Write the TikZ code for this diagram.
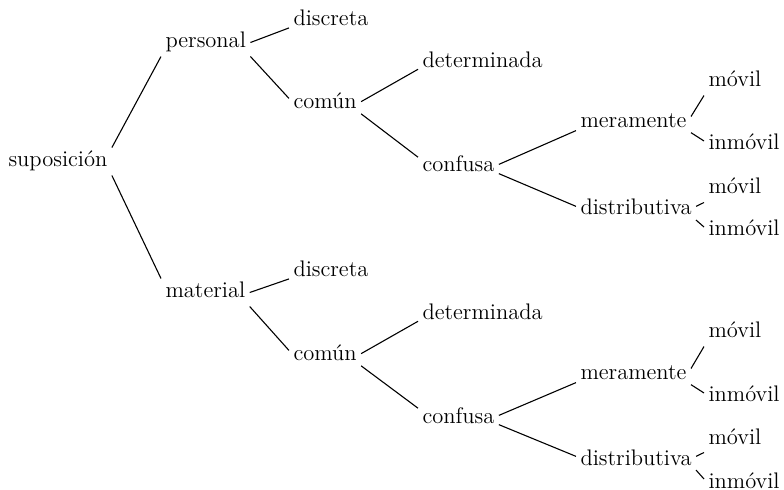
\documentclass[tikz,border=0pt]{standalone}
\usepackage{fontspec}
\tikzset{term/.style={anchor=base west,inner sep=2pt,text height=7.5pt,text depth=2pt,font=\fontsize{11.3}{13}\selectfont}}
\begin{document}
\begin{tikzpicture}[line join=bevel,line width=0.55pt]
    \useasboundingbox (0bp,0bp) rectangle (392bp,245bp);
    %%
    \node (sup) at (2.0bp,161.5bp) [term] {suposición};
    \node (pers) at (80.5bp,221.0bp) [term] {personal};
    \node (disc1) at (144.5bp,232.0bp) [term] {discreta};
    \node (com1) at (144.5bp,190.5bp) [term] {común};
    \node (det1) at (209.0bp,211.0bp) [term] {determinada};
    \node (conf1) at (209.0bp,159.0bp) [term] {confusa};
    \node (mera1) at (288.0bp,181.0bp) [term] {meramente};
    \node (dist1) at (288.0bp,137.5bp) [term] {distributiva};
    \node (mov1) at (352.0bp,201.5bp) [term] {móvil};
    \node (inm1) at (352.0bp,170.0bp) [term] {inmóvil};
    \node (mov2) at (352.0bp,148.0bp) [term] {móvil};
    \node (inm2) at (352.0bp,127.0bp) [term] {inmóvil};
    %
    \node (mat) at (80.5bp,96.0bp) [term] {material};
    \node (disc2) at (144.5bp,106.5bp) [term] {discreta};
    \node (com2) at (144.5bp,64.5bp) [term] {común};
    \node (det2) at (209.0bp,85.0bp) [term] {determinada};
    \node (conf2) at (209.0bp,33.5bp) [term] {confusa};
    \node (mera2) at (288.0bp,55.0bp) [term] {meramente};
    \node (dist2) at (288.0bp,12.5bp) [term] {distributiva};
    \node (mov3) at (352.0bp,76.0bp) [term] {móvil};
    \node (inm3) at (352.0bp,44.0bp) [term] {inmóvil};
    \node (mov4) at (352.0bp,23.0bp) [term] {móvil};
    \node (inm4) at (352.0bp,1.0bp) [term] {inmóvil};
    %%
    \draw [] (sup.north east) -- (pers.south west);
    \draw [] (sup.south east) -- (mat.north west);
    \draw [] (pers.east) -- (disc1.190);
    \draw [] (pers.south east) -- (com1.172);
    \draw [] (com1.3) -- (det1.186);
    \draw [] (com1.-16) -- (conf1.167);
    \draw [] (conf1.3) -- (mera1.188);
    \draw [] (conf1.-10) -- (dist1.177);
    \draw [] (mera1.6) -- (mov1.south west);
    \draw [] (mera1.-10) -- (inm1.175);
    \draw [] (dist1.3) -- (mov2.south west);
    \draw [] (dist1.-10) -- (inm2.175);
    %
    \draw [] (mat.east) -- (disc2.190);
    \draw [] (mat.south east) -- (com2.172);
    \draw [] (com2.3) -- (det2.186);
    \draw [] (com2.-16) -- (conf2.167);
    \draw [] (conf2.3) -- (mera2.188);
    \draw [] (conf2.-10) -- (dist2.177);
    \draw [] (mera2.6) -- (mov3.south west);
    \draw [] (mera2.-10) -- (inm3.175);
    \draw [] (dist2.3) -- (mov4.south west);
    \draw [] (dist2.-10) -- (inm4.175);
    %
\end{tikzpicture}
\end{document}
